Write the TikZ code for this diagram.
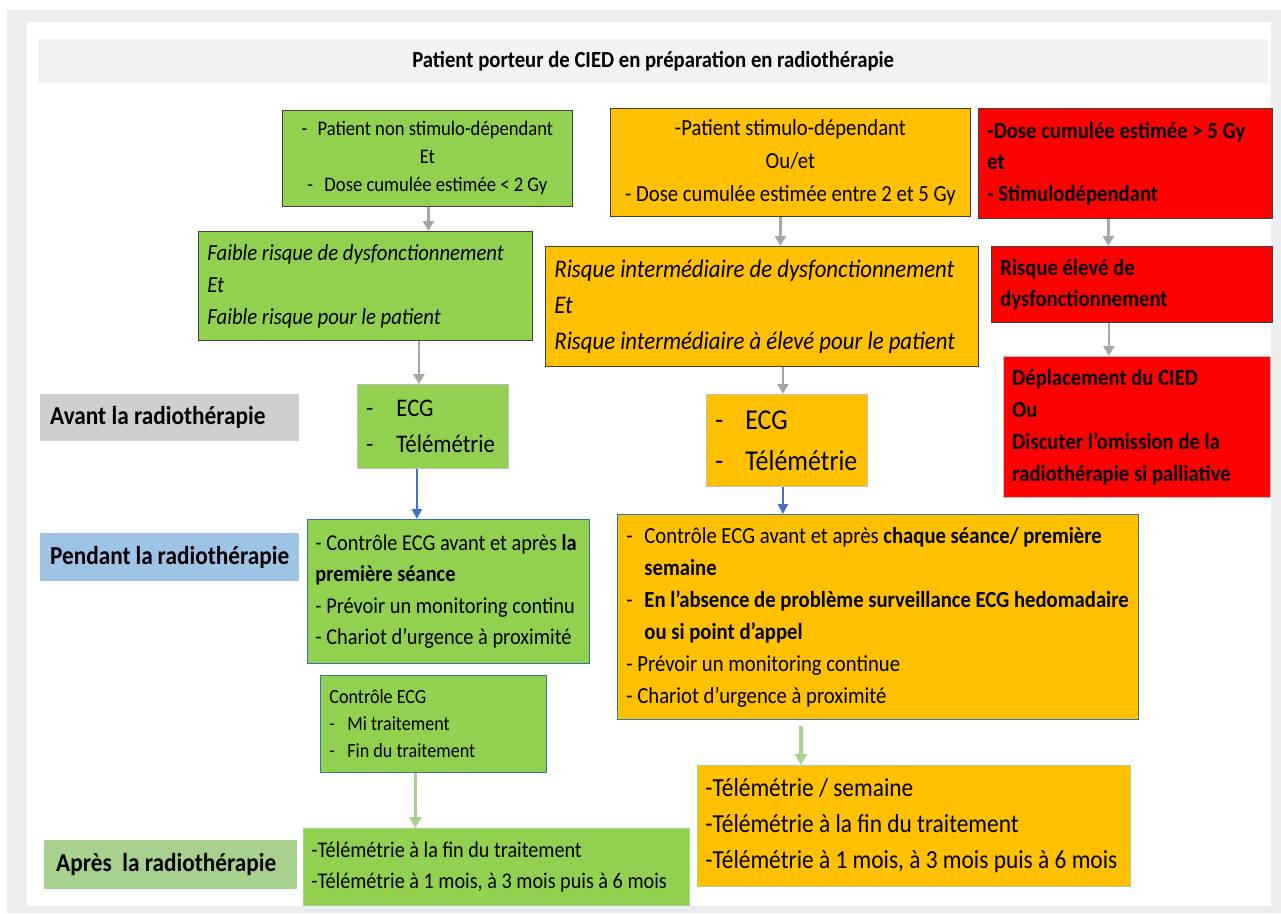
\documentclass[tikz,border=0pt]{standalone}
\usepackage{fontspec}
\setmainfont{Carlito}[FakeStretch=0.9]
\usetikzlibrary{arrows.meta,positioning,calc}
\definecolor{cadre}{HTML}{EDEDF0}
\definecolor{titre}{HTML}{F2F2F2}
\definecolor{vert}{HTML}{92D050}
\definecolor{orange}{HTML}{FFC000}
\definecolor{rouge}{HTML}{FF0000}
\definecolor{gris}{HTML}{A6A6A6}
\definecolor{bleu}{HTML}{4472C4}
\definecolor{bleutrait}{HTML}{2E75B6}
\definecolor{vertclair}{HTML}{A9D18E}
\definecolor{grisclair}{HTML}{D0CECE}
\definecolor{bleuclair}{HTML}{9DC3E6}
\newcommand{\fsz}[2]{\fontsize{\fpeval{1.15*#1}}{#2}\selectfont}
\newcommand{\tiret}[1]{\makebox[#1][l]{-}}
\hyphenpenalty=10000

\begin{document}
\begin{tikzpicture}[x=1pt,y=-1pt,
  box/.style={draw=#1,line width=0.8pt,anchor=north west,inner xsep=9pt,inner ysep=2pt},
  box/.default=black!75,
  lbl/.style={anchor=north west,inner xsep=10pt,inner ysep=0pt,font={\fsz{22.5}{27}\bfseries},align=flush left},
  grarrow/.style={draw=gris,line width=2.6pt,-{Triangle[width=11pt,length=10pt]}},
  blarrow/.style={draw=bleu,line width=2.4pt,-{Triangle[width=10pt,length=10pt]}},
  lgarrow/.style={draw=vertclair,line width=3.4pt,-{Triangle[width=12pt,length=11pt]}}]
\useasboundingbox (0,0) rectangle (1281,913);
\fill[cadre] (7,10) rectangle (1281,913);
\fill[white] (27,22) rectangle (1271,906);

% titre
\node[fill=titre,anchor=north west,minimum width=1230,minimum height=44,inner sep=0pt,
  font={\fsz{20}{24}\bfseries}] (titre) at (38,39) {Patient porteur de CIED en préparation en radiothérapie};

% phases
\node[lbl,fill=grisclair,text width=239,minimum height=47] (avant) at (40,394) {Avant la radiothérapie};
\node[lbl,fill=bleuclair,text width=239,minimum height=48] (pendant) at (40,533) {Pendant la radiothérapie};
\node[lbl,fill=vertclair,inner xsep=12pt,text width=229,minimum height=49] (apres) at (44,840) {Après\ \ la radiothérapie};

% colonne verte
\node[box,fill=vert,minimum width=290,minimum height=96,align=center,font={\fsz{18}{28}}] (g1) at (282,110)
  {\tiret{16pt}Patient non stimulo-dépendant\\Et\\\tiret{17pt}Dose cumulée estimée < 2 Gy};
\node[box,fill=vert,text width=316,minimum height=109,align=flush left,font={\fsz{20}{32}\itshape}] (g2) at (198,231)
  {Faible risque de dysfonctionnement\\Et\\Faible risque pour le patient};
\node[box=black!25,fill=vert,text width=133,minimum height=84,align=flush left,font={\fsz{22}{36}}] (g3) at (357,384)
  {\tiret{30pt}ECG\\\tiret{30pt}Télémétrie};
\node[box=bleutrait,fill=vert,inner xsep=8pt,text width=266,minimum height=144,align=flush left,font={\fsz{19.7}{31.5}}] (g4) at (307,519)
  {- Contrôle ECG avant et après \textbf{la}\\\textbf{première séance}\\- Prévoir un monitoring continu\\- Chariot d’urgence à proximité};
\node[box=bleutrait,fill=vert,text width=208,minimum height=97,align=flush left,font={\fsz{17.5}{27}}] (g5) at (320,675)
  {Contrôle ECG\\\tiret{18pt}Mi traitement\\\tiret{18pt}Fin du traitement};
\node[box=vertclair,fill=vert,inner xsep=8pt,text width=370,minimum height=77,align=flush left,font={\fsz{19.5}{31}}] (g6) at (303,828)
  {-Télémétrie à la fin du traitement\\-Télémétrie à 1 mois, à 3 mois puis à 6 mois};

% colonne orange
\node[box,fill=orange,minimum width=360,minimum height=108,align=center,font={\fsz{20}{33}}] (o1) at (610,108)
  {-Patient stimulo-dépendant\\Ou/et\\- Dose cumulée estimée entre 2 et 5 Gy};
\node[box,fill=orange,text width=415,minimum height=120,align=flush left,font={\fsz{22}{36}\itshape}] (o2) at (545,246)
  {Risque intermédiaire de dysfonctionnement\\Et\\Risque intermédiaire à élevé pour le patient};
\node[box=black!25,fill=orange,text width=143,minimum height=92,align=flush left,font={\fsz{25}{41}}] (o3) at (706,394)
  {\tiret{30pt}ECG\\\tiret{30pt}Télémétrie};
\node[box=bleutrait,fill=orange,text width=503,minimum height=205,align=flush left,font={\fsz{20}{32}}] (o4) at (617,514)
  {\tiret{18pt}Contrôle ECG avant et après \textbf{chaque séance/ première}\\\hspace*{18pt}\textbf{semaine}\\
   \tiret{18pt}\textbf{En l’absence de problème surveillance ECG hedomadaire}\\\hspace*{18pt}\textbf{ou si point d’appel}\\
   - Prévoir un monitoring continue\\- Chariot d’urgence à proximité};
\node[box=vertclair,fill=orange,inner xsep=8pt,text width=417,minimum height=121,align=flush left,font={\fsz{22.6}{36}}] (o5) at (697,765)
  {-Télémétrie / semaine\\-Télémétrie à la fin du traitement\\-Télémétrie à 1 mois, à 3 mois puis à 6 mois};

% colonne rouge
\node[box,fill=rouge,text width=276,minimum height=110,align=flush left,font={\fsz{20}{31.5}\bfseries}] (r1) at (978,108)
  {-Dose cumulée estimée > 5 Gy\\et\\- Stimulodépendant};
\node[box,fill=rouge,text width=263,minimum height=76,align=flush left,font={\fsz{20}{31}\bfseries}] (r2) at (991,246)
  {Risque élevé de\\dysfonctionnement};
\node[box=black!25,fill=rouge,text width=249,minimum height=141,align=flush left,font={\fsz{20}{32}\bfseries}] (r3) at (1003,356)
  {Déplacement du CIED\\Ou\\Discuter l’omission de la\\radiothérapie si palliative};

% fleches
\draw[grarrow] ([xshift=1pt]g1.south) -- ([xshift=1pt]g1.south |- g2.north);
\draw[grarrow] ([xshift=-14pt]g3.north |- g2.south) -- ([xshift=-14pt]g3.north);
\draw[blarrow] ([xshift=-16pt]g3.south) -- ([xshift=-16pt]g3.south |- g4.north);
\draw[lgarrow] ([xshift=-18pt]g5.south) -- ([xshift=-18pt]g5.south |- g6.north);
\draw[grarrow] ([xshift=-10pt]o1.south) -- ([xshift=-10pt]o1.south |- o2.north);
\draw[grarrow] ([xshift=-4pt]o3.north |- o2.south) -- ([xshift=-4pt]o3.north);
\draw[blarrow] ([xshift=-4pt]o3.south) -- ([xshift=-4pt]o3.south |- o4.north);
\coordinate (o5in) at ([xshift=-113pt]o5.north);
\draw[lgarrow] ($(o5in |- o4.south)+(0,6)$) -- (o5in);
\draw[grarrow] ([xshift=-17pt]r1.south) -- ([xshift=-17pt]r1.south |- r2.north);
\draw[grarrow] ([xshift=-23pt]r2.south) -- ([xshift=-23pt]r2.south |- r3.north);
\end{tikzpicture}
\end{document}
